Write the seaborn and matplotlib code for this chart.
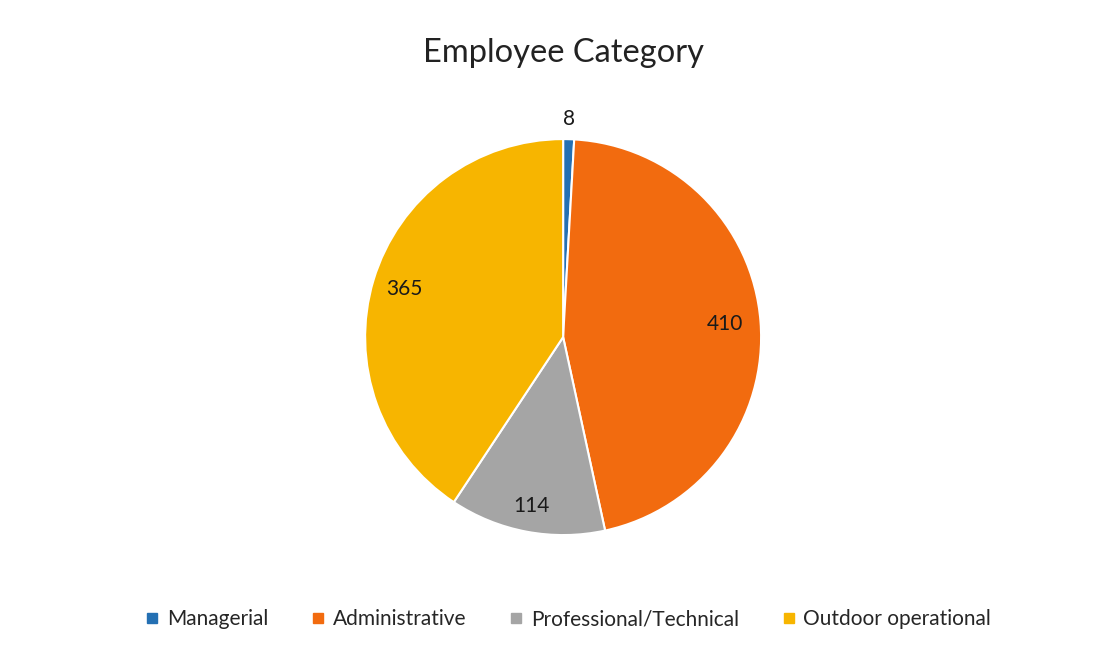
import numpy as np
import matplotlib
matplotlib.use("Agg")
import matplotlib.pyplot as plt
import seaborn as sns
from matplotlib.lines import Line2D

categories = ["Managerial", "Administrative", "Professional/Technical", "Outdoor operational"]
values = [8, 410, 114, 365]
colors = ["#2470B3", "#F26B0F", "#A5A5A5", "#F7B500"]
label_radius = [1.10, 0.82, 0.87, 0.84]

sns.set_theme(style="white")
plt.rcParams['font.family'] = ['Lato', 'DejaVu Sans']

fig = plt.figure(figsize=(11.02, 6.47), dpi=100)
fig.patch.set_facecolor("white")
ax = fig.add_axes([0.511 - 0.1797, 0.479 - 0.306, 0.3594, 0.612])
wedges, _ = ax.pie(values, colors=sns.color_palette(colors), startangle=90, counterclock=False,
                   wedgeprops=dict(edgecolor="white", linewidth=1.5))
ax.set_aspect("equal")
ax.set_xlim(-1, 1)
ax.set_ylim(-1, 1)
ax.axis("off")

for w, v, r in zip(wedges, values, label_radius):
    ang = np.deg2rad((w.theta1 + w.theta2) / 2)
    ax.text(r * np.cos(ang), r * np.sin(ang), str(v), ha="center", va="center",
            fontsize=15, color="#1a1a1a", clip_on=False)

fig.text(0.511, 0.918, "Employee Category", ha="center", va="center", fontsize=23.5, color="#222222")

handles = [Line2D([0], [0], marker="s", linestyle="none", markersize=7,
                  markerfacecolor=c, markeredgecolor=c) for c in colors]
fig.legend(handles, categories, loc="center", bbox_to_anchor=(0.515, 0.043), ncol=4,
           frameon=False, fontsize=15, handletextpad=0.3, columnspacing=2.0, handlelength=0.8)

fig.savefig("out.png", dpi=100, facecolor="white")
